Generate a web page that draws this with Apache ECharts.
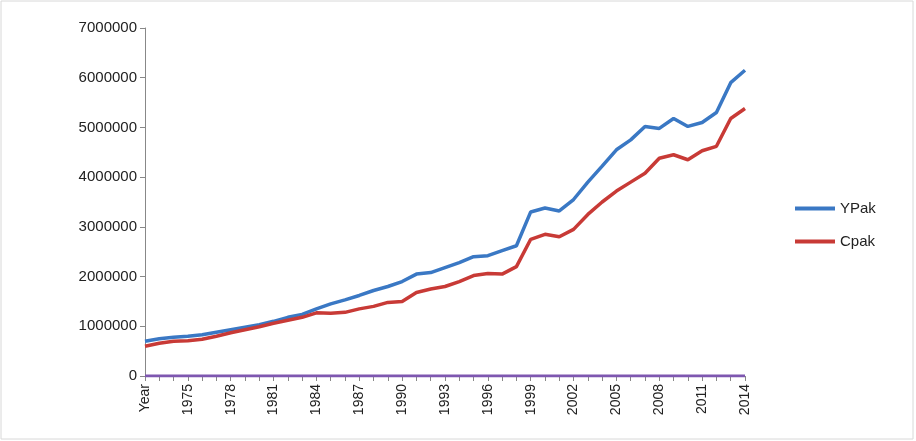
<!DOCTYPE html>
<html><head><meta charset="utf-8">
<script src="https://cdn.jsdelivr.net/npm/echarts@6/dist/echarts.min.js"></script>
<style>body{margin:0}#c{width:916px;height:441px;}</style></head>
<body><div id="c"></div>
<script>
// categories: "Year" then 1973..2014
const years = ['Year'];
for (let y = 1973; y <= 2014; y++) years.push(String(y));

const yPak = [700000,750000,780000,800000,830000,880000,930000,980000,1030000,1100000,1180000,1240000,1350000,1450000,1530000,1620000,1720000,1800000,1900000,2050000,2080000,2180000,2280000,2400000,2420000,2520000,2620000,3300000,3380000,3320000,3550000,3900000,4220000,4550000,4750000,5020000,4980000,5180000,5020000,5100000,5300000,5900000,6150000];
const cPak = [600000,660000,700000,710000,740000,800000,870000,930000,990000,1060000,1120000,1180000,1270000,1260000,1280000,1350000,1400000,1480000,1500000,1680000,1750000,1800000,1900000,2020000,2060000,2050000,2200000,2750000,2850000,2800000,2950000,3250000,3500000,3720000,3900000,4080000,4380000,4450000,4350000,4530000,4620000,5180000,5380000];
const yearLine = years.map(() => 0);

const chart = echarts.init(document.getElementById('c'));
chart.setOption({
    animation: false,
    graphic: [{ type: 'rect', shape: { x: 1, y: 1, width: 912, height: 438 }, style: { fill: 'none', stroke: '#d8d8d8', lineWidth: 1 } }],
    grid: { left: 145, right: 171, top: 28, bottom: 65 },
    legend: {
        data: ['YPak', 'Cpak'],
        orient: 'vertical', left: 790, top: 196, itemGap: 18,
        itemWidth: 40, itemHeight: 4,
        textStyle: { fontSize: 15, color: '#222', fontFamily: 'Liberation Sans' },
        icon: 'rect'
    },
    xAxis: {
        type: 'category', data: years, boundaryGap: false,
        axisLine: { lineStyle: { color: '#888' } },
        axisTick: { interval: 0, lineStyle: { color: '#888' } },
        axisLabel: { interval: 2, rotate: 90, fontSize: 14, color: '#222', fontFamily: 'Liberation Sans' }
    },
    yAxis: {
        type: 'value', min: 0, max: 7000000, interval: 1000000,
        axisLine: { show: true, lineStyle: { color: '#888' } },
        axisTick: { show: true, lineStyle: { color: '#888' } },
        splitLine: { show: false },
        axisLabel: { fontSize: 15, color: '#222', fontFamily: 'Liberation Sans', formatter: v => String(v) }
    },
    series: [
        { name: 'YPak', type: 'line', data: yPak, showSymbol: false, lineStyle: { width: 3.5, color: '#3a78c4' }, itemStyle: { color: '#3a78c4' } },
        { name: 'Cpak', type: 'line', data: cPak, showSymbol: false, lineStyle: { width: 3.5, color: '#c83a36' }, itemStyle: { color: '#c83a36' } },
        { name: 'Year', type: 'line', data: yearLine, showSymbol: false, lineStyle: { width: 3, color: '#7e57b0' }, z: 1 }
    ]
});
</script></body></html>
